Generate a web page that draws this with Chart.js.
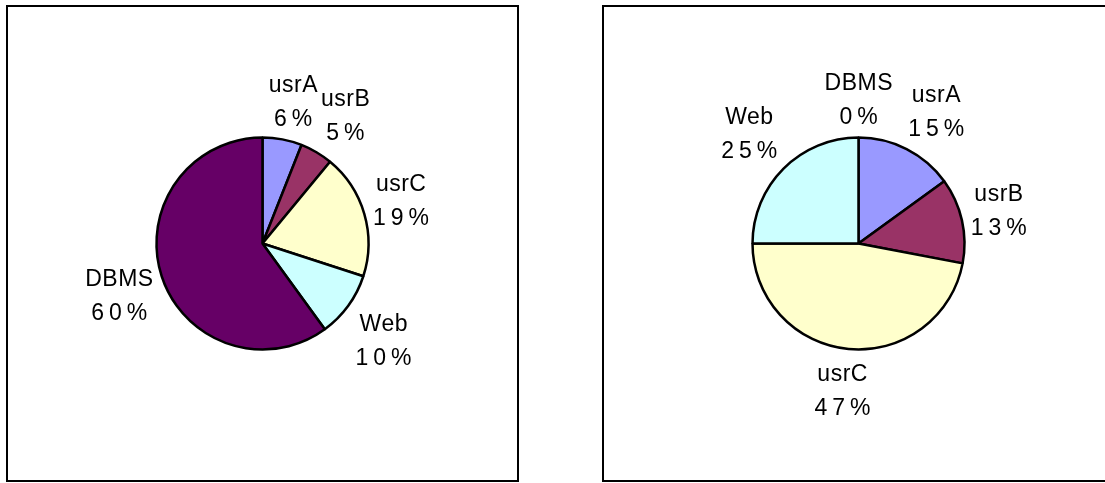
<!DOCTYPE html>
<html>
<head>
<meta charset="utf-8">
<script src="https://cdn.jsdelivr.net/npm/chart.js@4/dist/chart.umd.min.js"></script>
<style>
  html, body { margin: 0; padding: 0; background: #fff; width: 1105px; height: 483px; overflow: hidden; }
  .box { position: absolute; top: 5px; width: 513px; height: 477px; box-sizing: border-box; border: 2px solid #000; background: #fff; }
  #box1 { left: 6px; }
  #box2 { left: 602px; }
  .box canvas { position: absolute; left: 0; top: 0; }
</style>
</head>
<body>
<div class="box" id="box1"><canvas id="c1" width="509" height="473"></canvas></div>
<div class="box" id="box2"><canvas id="c2" width="509" height="473"></canvas></div>
<script>
const categories = ['usrA', 'usrB', 'usrC', 'Web', 'DBMS'];
const chart1Values = [6, 5, 19, 10, 60];
const chart2Values = [15, 13, 47, 25, 0];
const sliceColors = ['#9999FF', '#993366', '#FFFFCC', '#CCFFFF', '#660066'];

const FONT = '23px "Liberation Sans", Arial, Helvetica, sans-serif';
const LINE_H = 34;
const NAME_SPACING = 0.5;
const PCT_SPACING = 5;
const LABEL_GAP = 9;

const clamp1 = v => Math.max(-1, Math.min(1, v));

const outsideLabels = {
  id: 'outsideLabels',
  afterDatasetsDraw(chart) {
    const ctx = chart.ctx;
    const ds = chart.data.datasets[0];
    const total = ds.data.reduce((a, b) => a + b, 0);
    const meta = chart.getDatasetMeta(0);
    ctx.save();
    ctx.font = FONT;
    ctx.fillStyle = '#000';
    ctx.textAlign = 'center';
    ctx.textBaseline = 'middle';
    meta.data.forEach((arc, i) => {
      const p = arc.getProps(['x', 'y', 'startAngle', 'endAngle', 'outerRadius'], true);
      const mid = (p.startAngle + p.endAngle) / 2;
      const name = chart.data.labels[i];
      const pct = Math.round(ds.data[i] / total * 100) + '%';
      ctx.letterSpacing = NAME_SPACING + 'px';
      const w1 = ctx.measureText(name).width - NAME_SPACING;
      ctx.letterSpacing = PCT_SPACING + 'px';
      const w2 = ctx.measureText(pct).width - PCT_SPACING;
      const a = Math.max(w1, w2) / 2;
      const b = LINE_H - 3;
      const dx = Math.cos(mid), dy = Math.sin(mid);
      // anchor just outside the rim, then shift the label block away from the pie
      const r = p.outerRadius + LABEL_GAP;
      const cx = p.x + dx * r + a * clamp1(2 * dx);
      const cy = p.y + dy * r + b * clamp1(1.5 * dy) + 3;
      ctx.letterSpacing = NAME_SPACING + 'px';
      ctx.fillText(name, cx + NAME_SPACING / 2, cy - LINE_H / 2);
      ctx.letterSpacing = PCT_SPACING + 'px';
      ctx.fillText(pct, cx + PCT_SPACING / 2, cy + LINE_H / 2);
    });
    ctx.restore();
  }
};

function makePie(id, values) {
  return new Chart(document.getElementById(id), {
    type: 'pie',
    data: {
      labels: categories,
      datasets: [{
        data: values,
        backgroundColor: sliceColors,
        borderColor: '#000',
        borderWidth: 2.5,
        borderAlign: 'center',
        radius: 106
      }]
    },
    options: {
      responsive: false,
      animation: false,
      events: [],
      layout: { padding: 0 },
      plugins: { legend: { display: false }, tooltip: { enabled: false } }
    },
    plugins: [outsideLabels]
  });
}

makePie('c1', chart1Values);
makePie('c2', chart2Values);
</script>
</body>
</html>
